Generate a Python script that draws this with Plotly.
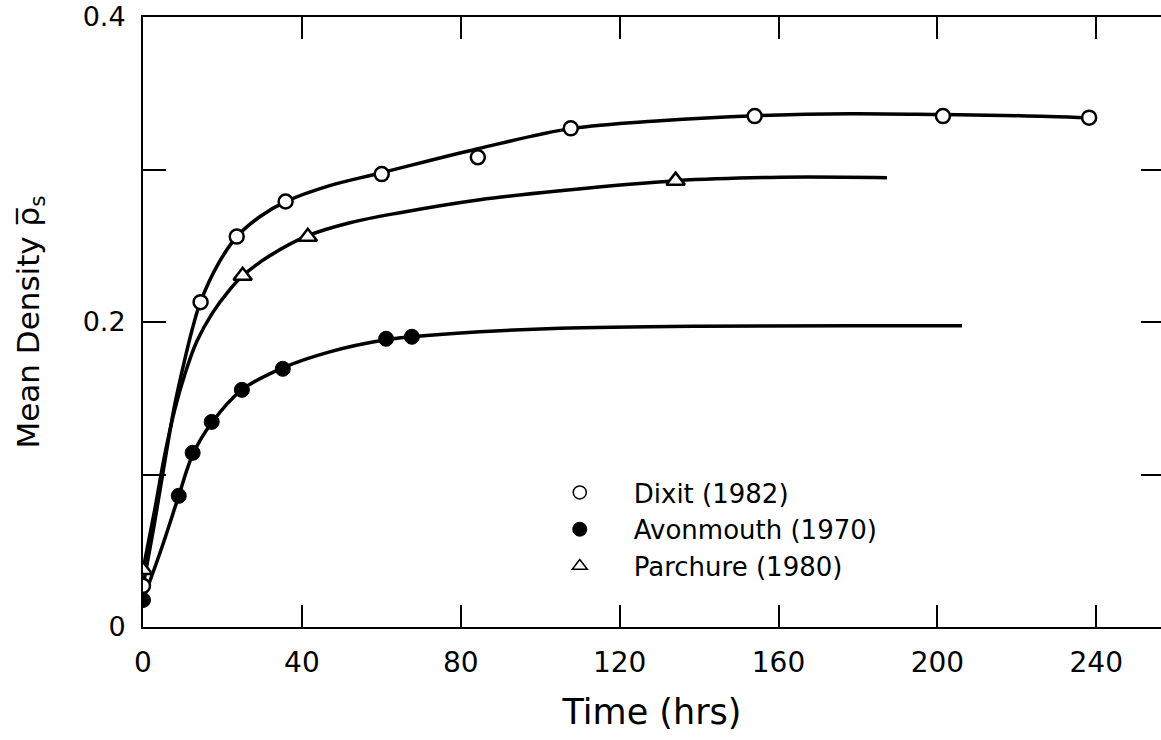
import plotly.graph_objects as go

# ---------------- data ----------------
# Dixit (1982) - open circles
dixit_t = [0, 14.5, 23.6, 35.9, 60.1, 84.3, 107.7, 154.0, 201.4, 238.2]
dixit_v = [0.027, 0.213, 0.256, 0.279, 0.297, 0.308, 0.327, 0.335, 0.335, 0.334]
dixit_curve_t = [0, 2.95, 5.47, 7.98, 10.5, 12.5, 14.5, 18.8, 23.6, 29.4, 35.9, 47.0,
                 60.1, 84.3, 107.7, 130.2, 154.1, 178.0, 201.4, 220.8, 238.2]
dixit_curve_v = [0.0269, 0.0689, 0.1083, 0.1457, 0.1752, 0.1962, 0.2133, 0.2375, 0.2559,
                 0.2690, 0.2789, 0.2894, 0.2979, 0.3136, 0.3268, 0.3320, 0.3353, 0.3366,
                 0.3360, 0.3353, 0.3340]

# Avonmouth (1970) - filled circles
avon_t = [0, 9.0, 12.5, 17.3, 24.9, 35.2, 61.2, 67.7]
avon_v = [0.0177, 0.086, 0.1142, 0.1345, 0.1555, 0.1693, 0.189, 0.1903]
avon_curve_t = [0, 4.7, 9.0, 12.5, 17.3, 24.9, 35.2, 47.0, 61.1, 67.7, 84.8,
                105.0, 140.2, 178.0, 206.2]
avon_curve_v = [0.0177, 0.0518, 0.0860, 0.1129, 0.1339, 0.1555, 0.1699, 0.1804, 0.1883,
                0.1903, 0.1936, 0.1959, 0.1972, 0.1975, 0.1975]

# Parchure (1980) - open triangles
parch_t = [0, 25.1, 41.5, 134.1]
parch_v = [0.0374, 0.2303, 0.2559, 0.2927]
parch_curve_t = [0, 2.95, 5.47, 7.98, 10.5, 13.5, 17.5, 21.8, 25.1, 31.9, 41.5, 52.1,
                 64.7, 84.8, 105.0, 134.2, 160.4, 187.3]
parch_curve_v = [0.0374, 0.0768, 0.1129, 0.1424, 0.1654, 0.1870, 0.2060, 0.2211, 0.2303,
                 0.2434, 0.2566, 0.2651, 0.2717, 0.2802, 0.2861, 0.2927, 0.2949, 0.2946]

x_ticks = [0, 40, 80, 120, 160, 200, 240]
x_tick_text = ["0", "40", "80", "120", "160", "200", "240"]
y_ticks = [0, 0.2, 0.4]
y_tick_text = ["0", "0.2", "0.4"]
y_minor_ticks = [0.1, 0.3]

series_names = ["Dixit (1982)", "Avonmouth (1970)", "Parchure (1980)"]

# ---------------- figure ----------------
FONT = "DejaVu Sans, Liberation Sans, Arial, sans-serif"
LW = 3.5

fig = go.Figure()

for ct, cv in [(dixit_curve_t, dixit_curve_v), (parch_curve_t, parch_curve_v),
               (avon_curve_t, avon_curve_v)]:
    fig.add_trace(go.Scatter(x=ct, y=cv, mode="lines",
                             line=dict(color="black", width=LW, shape="spline", smoothing=1.0),
                             showlegend=False, hoverinfo="skip"))

fig.add_trace(go.Scatter(x=dixit_t, y=dixit_v, mode="markers", showlegend=False,
                         marker=dict(symbol="circle", size=14, color="white",
                                     line=dict(color="black", width=2.5))))
fig.add_trace(go.Scatter(x=avon_t, y=avon_v, mode="markers", showlegend=False,
                         marker=dict(symbol="circle", size=15, color="black",
                                     line=dict(color="black", width=1))))
fig.add_trace(go.Scatter(x=parch_t, y=parch_v, mode="markers", showlegend=False,
                         marker=dict(symbol="triangle-up", size=16, color="white",
                                     line=dict(color="black", width=2.5))))

# legend entries (marker-only, thinner like the reference key)
fig.add_trace(go.Scatter(x=[None], y=[None], mode="markers", name=series_names[0],
                         marker=dict(symbol="circle", size=13, color="white",
                                     line=dict(color="black", width=1.5))))
fig.add_trace(go.Scatter(x=[None], y=[None], mode="markers", name=series_names[1],
                         marker=dict(symbol="circle", size=14, color="black",
                                     line=dict(color="black", width=1))))
fig.add_trace(go.Scatter(x=[None], y=[None], mode="markers", name=series_names[2],
                         marker=dict(symbol="triangle-up", size=13, color="white",
                                     line=dict(color="black", width=1.5))))

# empty trace to carry the right-hand tick axis
fig.add_trace(go.Scatter(x=[None], y=[None], yaxis="y2", showlegend=False, hoverinfo="skip"))

minor_style = dict(tickvals=y_minor_ticks, ticks="inside", tickwidth=1.5,
                   tickcolor="black", showgrid=False)

fig.update_layout(
    width=1161, height=740,
    margin=dict(l=143, r=0, t=17, b=113),
    paper_bgcolor="white", plot_bgcolor="white",
    font=dict(family=FONT, color="black", size=28),
    xaxis=dict(range=[0, 256.3], tickvals=x_ticks, ticktext=x_tick_text,
               ticks="inside", ticklen=22, tickwidth=1.5, tickcolor="black",
               showline=True, linecolor="black", linewidth=2, mirror="ticks",
               showgrid=False, zeroline=False, ticklabelstandoff=9,
               tickfont=dict(size=28),
               title=dict(text="Time (hrs)", font=dict(size=35), standoff=22)),
    yaxis=dict(range=[0, 0.4], tickvals=y_ticks, ticktext=y_tick_text,
               ticks="inside", ticklen=23, tickwidth=1.5, tickcolor="black",
               minor=dict(ticklen=23, **minor_style),
               showline=True, linecolor="black", linewidth=2, mirror=False,
               showgrid=False, zeroline=False, ticklabelstandoff=10,
               tickfont=dict(size=27),
               title=dict(text="Mean Density ρ\u0305<sub>s</sub>", font=dict(size=31), standoff=34)),
    yaxis2=dict(range=[0, 0.4], overlaying="y", side="right", tickvals=y_ticks,
                ticks="inside", ticklen=20, tickwidth=1.5, tickcolor="black",
                minor=dict(ticklen=20, **minor_style),
                showticklabels=False, showline=False, showgrid=False, zeroline=False),
    legend=dict(x=0.376, y=0.259, xanchor="left", yanchor="top",
                bgcolor="rgba(0,0,0,0)", font=dict(size=26), itemwidth=98),
)

fig.write_html("out.html")
